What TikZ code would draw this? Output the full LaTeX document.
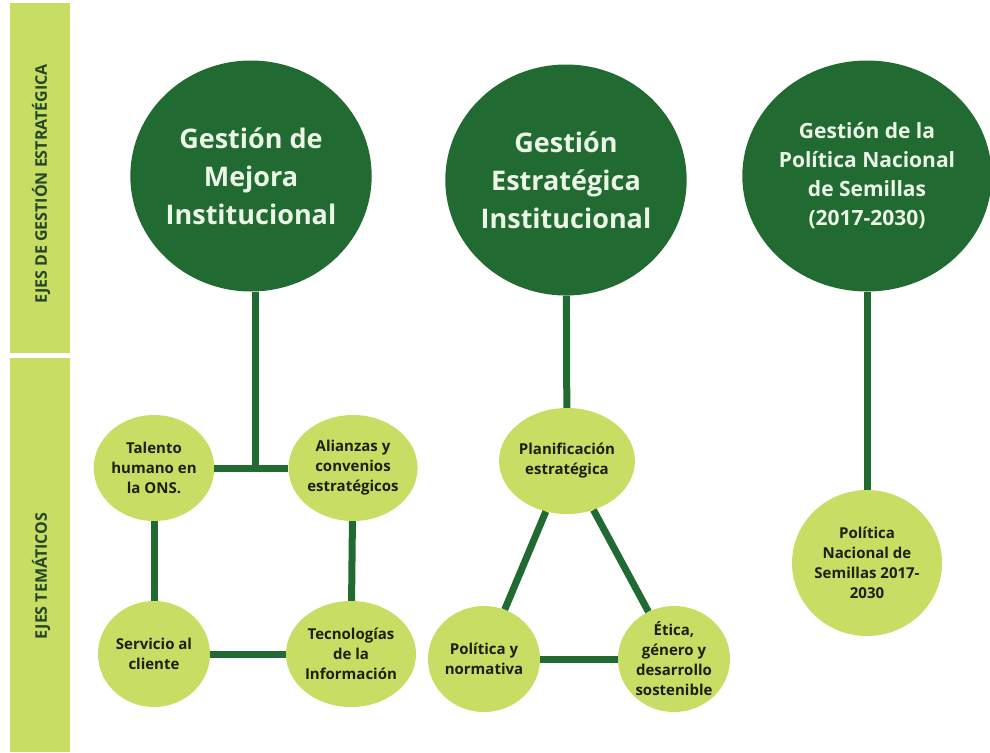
\documentclass[tikz,border=0pt]{standalone}
\usepackage{fontspec}
\setmainfont{Open Sans}
\usepackage{tikz}
\usetikzlibrary{shapes.geometric}
\definecolor{verdeosc}{RGB}{33,106,49}
\definecolor{verdecl}{RGB}{200,221,100}
\definecolor{textocl}{RGB}{236,246,230}
\definecolor{textoosc}{RGB}{28,32,18}
\definecolor{rotulo}{RGB}{38,70,36}
\tikzset{
  eje/.style={ellipse, fill=verdeosc, text=textocl, inner sep=0pt,
    minimum width=234pt, minimum height=231pt, align=center,
    font=\bfseries\fontsize{27}{38}\selectfont},
  tema/.style={ellipse, fill=verdecl, text=textoosc, inner sep=0pt,
    minimum width=112pt, minimum height=106pt, align=center,
    font=\bfseries\fontsize{15}{20}\selectfont},
  enlace/.style={draw=verdeosc, line width=7pt},
  franja/.style={fill=verdecl},
  vertical/.style={rotate=90, text=rotulo,
    font=\bfseries\fontsize{16}{18}\selectfont},
}

\begin{document}
\begin{tikzpicture}[x=1pt,y=-1pt]
  \useasboundingbox (0,0) rectangle (990,752);
  % franjas laterales
  \fill[franja] (10,3) rectangle (70,353);
  \fill[franja] (10,358) rectangle (70,752);
  \node[vertical] (rotgest) at (41,184) {EJES DE GESTIÓN ESTRATÉGICA};
  \node[vertical] (rottema) at (41,576) {EJES TEMÁTICOS};

  % ejes de gestion
  \node[eje] (gmejora) at (251,176) {Gestión de\\Mejora\\Institucional};
  \node[eje] (gestrat) at (566,180) {Gestión\\Estratégica\\Institucional};
  \node[eje, font=\bfseries\fontsize{21}{29}\selectfont] (gsemillas) at (867,176)
    {Gestión de la\\Política Nacional\\de Semillas\\(2017-2030)};

  % ejes tematicos
  \node[tema] (talento) at (154,468) {Talento\\humano en\\la ONS.};
  \node[tema] (alianzas) at (353,468) {Alianzas y\\convenios\\estratégicos};
  \node[tema] (servicio) at (154,654) {Servicio al\\cliente};
  \node[tema] (tecno) at (351,654) {Tecnologías\\de la\\Información};
  \node[tema] (planif) at (567,461) {Planificación\\estratégica};
  \node[tema] (politica) at (484,659) {Política y\\normativa};
  \node[tema] (etica) at (674,659) {Ética,\\género y\\desarrollo\\sostenible};
  \node[tema, minimum width=150pt, minimum height=146pt] (polnac) at (867,563)
    {Política\\Nacional de\\Semillas 2017-\\2030};

  % conexiones
  \coordinate (nudo) at (255,468);
  \draw[enlace] (gmejora.south -| nudo) -- (nudo);
  \draw[enlace] (talento) -- (alianzas);
  \draw[enlace] (talento) -- (servicio);
  \draw[enlace] (alianzas) -- (tecno);
  \draw[enlace] (servicio) -- (tecno);
  \draw[enlace] (gestrat) -- (planif);
  \draw[enlace] (planif) -- (politica);
  \draw[enlace] (planif) -- (etica);
  \draw[enlace] (politica) -- (etica);
  \draw[enlace] (gsemillas) -- (polnac);
\end{tikzpicture}
\end{document}
